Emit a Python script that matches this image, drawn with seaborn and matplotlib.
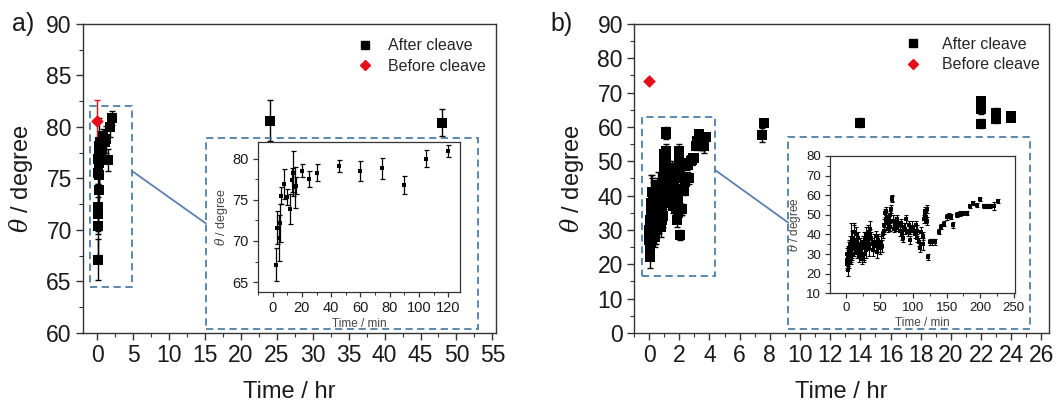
import numpy as np
import pandas as pd
import seaborn as sns
import matplotlib
matplotlib.use("Agg")
import matplotlib.pyplot as plt
from matplotlib.patches import Rectangle
from matplotlib.lines import Line2D
from matplotlib.ticker import MultipleLocator

# ---------------- data: panel a ----------------
a_min = [2, 3, 4, 5, 6, 8, 10, 12, 13, 14, 15, 16, 20, 25, 30, 45, 60, 75, 90, 105, 120]
a_val = [67.1, 71.6, 70.4, 72.2, 75.5, 76.9, 75.3, 73.9, 77.4, 78.2, 76.5, 76.7,
         78.5, 77.5, 78.3, 79.1, 78.5, 78.8, 76.8, 80.0, 80.9]
a_err = [2.0, 2.0, 2.8, 2.3, 1.0, 1.8, 1.0, 1.8, 1.5, 2.7, 2.5, 1.0,
         0.8, 1.0, 1.0, 0.7, 1.2, 1.3, 1.1, 1.0, 0.7]
a_late_hr = [24, 48]
a_late_val = [80.6, 80.4]
a_late_err = [2.0, 1.3]
a_before_hr = [0]
a_before_val = [80.6]
a_before_err = [2.0]

# ---------------- data: panel b ----------------
b_min = [1, 1.5, 2, 2.5, 3, 3.5, 4, 4.5, 5, 5.5,
         6, 6.5, 7, 7.5, 8, 8.5, 9, 10, 11, 12,
         13, 14, 15, 16, 17, 18, 19, 20, 21, 22,
         23, 24, 25, 26, 27, 28, 29, 30, 31, 32,
         33, 34, 35, 36, 37, 38, 40, 42, 44, 45,
         46, 47, 48, 50, 52, 54, 55, 56, 57, 58,
         59, 60, 61, 62, 63, 64, 65, 66, 67, 68,
         69, 70, 72, 74, 75, 76, 78, 80, 82, 84,
         85, 86, 88, 90, 92, 94, 95, 96, 98, 100,
         102, 104, 105, 106, 108, 110, 112, 114, 115, 116,
         117, 118, 119, 120, 121, 122, 125, 128, 132, 138,
         142, 146, 150, 153, 156, 160, 165, 170, 175, 180,
         185, 190, 195, 200, 205, 210, 215, 220, 226]
b_val = [30, 27, 25, 29, 22, 28, 31, 26, 33, 29,
         35, 31, 36, 28, 33, 30, 38, 35, 41, 37,
         33, 40, 36, 31, 34, 38, 29, 32, 35, 31,
         28, 33, 36, 30, 34, 38, 32, 39, 35, 41,
         37, 33, 40, 43, 38, 35, 32, 36, 39, 34,
         31, 37, 35, 33, 36, 34, 40, 42, 45, 51,
         48, 52, 46, 43, 49, 47, 44, 50, 53, 58.5,
         58, 47, 43, 46, 44, 48, 45, 42, 46, 40,
         38, 44, 43, 48, 41, 45, 37, 42, 44, 43,
         40, 45, 38, 42, 36, 33, 41, 35, 39, 48,
         50, 52, 49, 53, 47, 28.5, 36, 36, 36, 41.5,
         44, 45.5, 49, 49.5, 49, 45, 50, 50.5, 51, 51,
         54.5, 56, 55, 58, 54.5, 54.5, 54.5, 54.5, 57]
b_err = [3, 4, 3, 5, 3, 4, 5, 3, 4, 3,
         4, 3, 10, 3, 5, 3, 4, 3, 5, 8,
         3, 4, 5, 3, 4, 3, 3, 4, 3, 4,
         3, 4, 3, 4, 7, 3, 4, 5, 3, 4,
         3, 4, 3, 4, 3, 3, 3, 4, 3, 3,
         3, 3, 4, 3, 3, 3, 2, 2, 3, 2,
         2, 2, 3, 2, 2, 3, 2, 2, 2, 1.5,
         1.5, 3, 2, 3, 2, 2, 2, 3, 2, 3,
         2, 2, 3, 2, 2, 2, 2, 2, 3, 2,
         2, 2, 2, 3, 2, 2, 3, 3, 2, 2,
         2, 2, 3, 2, 2, 1.5, 1.5, 1.5, 1.5, 1.2,
         1.2, 1.2, 1.5, 1.2, 1.2, 1.5, 1.2, 1.2, 1.2, 1.2,
         1.2, 1.2, 1.2, 0.8, 1.2, 1.2, 1.2, 2, 1]
b_late_hr = [7.5, 7.6, 14, 22, 22, 22, 22, 23, 23, 23, 24, 24]
b_late_val = [57.7, 61.2, 61.3, 61.0, 65.2, 66.5, 67.5, 62.3, 63.5, 64.2, 62.7, 63.2]
b_late_err = [2.0, 1.0, 1.2, 1.2, 1.5, 1.5, 1.2, 1.2, 1.2, 1.2, 1.0, 1.0]
b_before_hr = [0]
b_before_val = [73.5]
b_before_err = [0.8]

legend_labels = ["After cleave", "Before cleave"]

# ---------------- style ----------------
sns.set_theme(style="white")
plt.rcParams["font.family"] = ["Liberation Sans", "DejaVu Sans"]
plt.rcParams["mathtext.fontset"] = "dejavuserif"
TXT = "#1a1a1a"
SPINE = "#333333"
RED = "#e3101c"
BOX = "#4f7fa8"

fig = plt.figure(figsize=(10.57, 4.01), dpi=100)


def style_axes(ax, xmaj, xmin, ymaj, ymin, fs, lw=1.0, tl=5):
    for s in ax.spines.values():
        s.set_color(SPINE)
        s.set_linewidth(lw)
        s.set_visible(True)
    ax.xaxis.set_major_locator(MultipleLocator(xmaj))
    ax.xaxis.set_minor_locator(MultipleLocator(xmin))
    ax.yaxis.set_major_locator(MultipleLocator(ymaj))
    ax.yaxis.set_minor_locator(MultipleLocator(ymin))
    ax.tick_params(axis="both", which="major", direction="out", length=tl, width=lw,
                   color=SPINE, labelsize=fs, labelcolor=TXT, bottom=True, left=True,
                   top=False, right=False, pad=3)
    ax.tick_params(axis="both", which="minor", direction="out", length=tl * 0.55,
                   width=lw * 0.8, color=SPINE, bottom=True, left=True, top=False, right=False)
    ax.grid(False)


def plot_series(ax, x, y, e, s, color, marker, elw, cap):
    ax.errorbar(x, y, yerr=e, fmt="none", ecolor=color, elinewidth=elw, capsize=cap,
                capthick=elw, zorder=2)
    sns.scatterplot(x=x, y=y, ax=ax, marker=marker, s=s, color=color, edgecolor=color,
                    linewidth=0, zorder=3, legend=False)


# ================= panel a =================
ax_a = fig.add_axes([0.0785, 0.1696, 0.3907, 0.7706])
a_hr = list(np.array(a_min) / 60.0)
plot_series(ax_a, a_hr + a_late_hr, a_val + a_late_val, a_err + a_late_err, 42, "black", "s", 1.0, 2.5)
plot_series(ax_a, a_before_hr, a_before_val, a_before_err, 42, RED, "D", 1.0, 2.5)
ax_a.set_xlim(-2.0, 55.5)
ax_a.set_ylim(60, 90)
style_axes(ax_a, 5, 2.5, 5, 2.5, 16.5)
ax_a.set_xlabel("Time / hr", fontsize=17, color=TXT, labelpad=10)
ax_a.set_ylabel(r"$\theta$ / degree", fontsize=17, color=TXT, labelpad=8)
handles = [Line2D([], [], marker="s", color="black", linestyle="none", markersize=5.5),
           Line2D([], [], marker="D", color=RED, linestyle="none", markersize=5.5)]
ax_a.legend(handles, legend_labels, loc="upper right", bbox_to_anchor=(1.0, 0.985),
            frameon=False, fontsize=11.5, handlelength=1.0, handletextpad=1.0,
            labelspacing=0.35, borderaxespad=0.2)
# small dashed box around cluster
ax_a.add_patch(Rectangle((-1.0, 64.5), 5.8, 17.5, fill=False, ls=(0, (4, 2.5)),
                         lw=1.3, ec=BOX, zorder=4))

# inset a
ax_ai = fig.add_axes([0.2441, 0.2718, 0.1911, 0.374])
plot_series(ax_ai, a_min, a_val, a_err, 10, "black", "s", 0.9, 1.8)
ax_ai.set_xlim(-10, 128)
ax_ai.set_ylim(63.8, 82)
style_axes(ax_ai, 20, 10, 5, 2.5, 10.5, lw=0.9, tl=3.5)
ax_ai.set_xlabel("Time / min", fontsize=8.5, color="#444444", labelpad=2)
ax_ai.set_ylabel(r"$\theta$ / degree", fontsize=9, color="#444444", labelpad=2)

# ================= panel b =================
ax_b = fig.add_axes([0.5998, 0.1696, 0.3926, 0.7706])
b_hr = list(np.array(b_min) / 60.0)
plot_series(ax_b, b_hr + b_late_hr, b_val + b_late_val, b_err + b_late_err, 42, "black", "s", 1.0, 2.5)
plot_series(ax_b, b_before_hr, b_before_val, b_before_err, 42, RED, "D", 1.0, 2.5)
ax_b.set_xlim(-1.0, 26.5)
ax_b.set_ylim(0, 90)
style_axes(ax_b, 2, 1, 10, 5, 16.5)
ax_b.set_xlabel("Time / hr", fontsize=17, color=TXT, labelpad=10)
ax_b.set_ylabel(r"$\theta$ / degree", fontsize=17, color=TXT, labelpad=8)
ax_b.legend(handles, legend_labels, loc="upper right", bbox_to_anchor=(1.0, 0.99),
            frameon=False, fontsize=11.5, handlelength=1.0, handletextpad=1.3,
            labelspacing=0.35, borderaxespad=0.2)
ax_b.add_patch(Rectangle((-0.5, 16.6), 4.9, 46.4, fill=False, ls=(0, (4, 2.5)),
                         lw=1.3, ec=BOX, zorder=4))

# inset b
ax_bi = fig.add_axes([0.7853, 0.2686, 0.175, 0.3424])
plot_series(ax_bi, b_min, b_val, b_err, 9, "black", "s", 0.8, 1.5)
ax_bi.set_xlim(-24, 252)
ax_bi.set_ylim(10, 80)
style_axes(ax_bi, 50, 25, 10, 5, 9.5, lw=0.9, tl=3.5)
ax_bi.set_xlabel("Time / min", fontsize=8.5, color="#444444", labelpad=2)
ax_bi.set_ylabel(r"$\theta$ / degree", fontsize=8.5, color="#444444", labelpad=2)

# ---------------- figure-level decorations ----------------
W, H = 1057.0, 401.0


def fig_rect(x0, y0, x1, y1):
    fig.add_artist(Rectangle((x0 / W, 1 - y1 / H), (x1 - x0) / W, (y1 - y0) / H,
                             transform=fig.transFigure, fill=False, ls=(0, (4, 2.5)),
                             lw=1.3, ec=BOX, zorder=1))


def fig_line(x0, y0, x1, y1):
    fig.add_artist(Line2D([x0 / W, x1 / W], [1 - y0 / H, 1 - y1 / H],
                          transform=fig.transFigure, color="#5b80b0", lw=1.3))


fig_rect(205.7, 137.7, 478.3, 329.3)
fig_line(133, 171.7, 205.7, 223.3)
fig_rect(788.3, 137.3, 1030, 329.3)
fig_line(715, 170, 788.3, 222.7)

fig.text(12 / W, 1 - 24 / H, "a)", fontsize=18, color=TXT, va="center", ha="left")
fig.text(550 / W, 1 - 24 / H, "b)", fontsize=18, color=TXT, va="center", ha="left")

fig.savefig("out.png", dpi=100)
